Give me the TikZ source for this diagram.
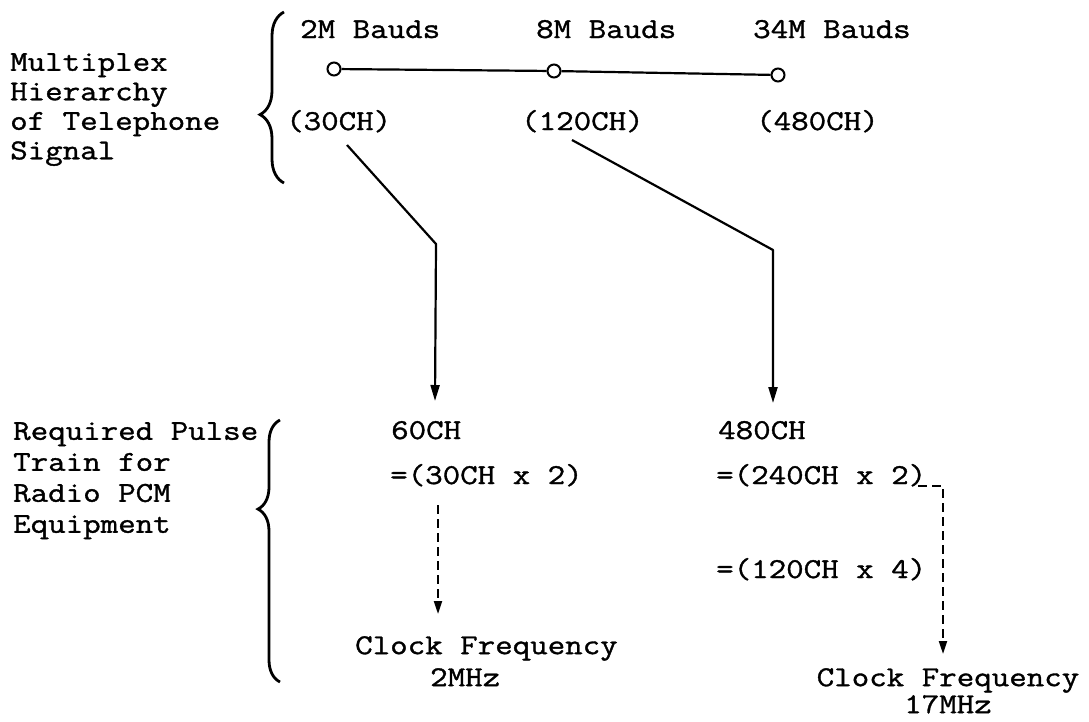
\documentclass[tikz,border=0pt]{standalone}
\usepackage{fontspec}
\newfontfamily\tw{Latin Modern Mono}[FakeStretch=1.18,FakeBold=1.2]
\usetikzlibrary{arrows.meta,decorations.pathreplacing}
\begin{document}
\begin{tikzpicture}[x=1pt,y=-1pt,
  txt/.style={inner sep=0pt, font=\tw\fontsize{28.8}{29.5}\selectfont, anchor=base west},
  blk/.style={align=left, anchor=north west},
  ln/.style={line width=2.2pt},
  arr/.style={line width=2.2pt, line join=round, -{Triangle[length=16pt,width=9pt]}},
  darr/.style={line width=2pt, dash pattern=on 9pt off 5pt, -{Triangle[length=13pt,width=8pt]}},
  dot/.style={circle, draw, line width=2pt, minimum size=13pt, inner sep=0pt, fill=white},
  brc/.style={decorate, line width=2.8pt}]
\useasboundingbox (0,0) rectangle (1089,721);
% top hierarchy
\node[txt] (b2) at (300,38) {2M Bauds};
\node[txt] (b8) at (536,38) {8M Bauds};
\node[txt] (b34) at (753,38) {34M Bauds};
\node[dot] (c2) at (334,69) {};
\node[dot] (c8) at (554,71) {};
\node[dot] (c34) at (778,75) {};
\draw[ln] (c2) -- (c8);
\draw[ln] (c8) -- (c34);
\node[txt] (h30) at (286,130) {(30CH)};
\node[txt] (h120) at (521,130) {(120CH)};
\node[txt] (h480) at (756,130) {(480CH)};
% left labels
\node[txt,blk] (lab1) at (10,53) {Multiplex\\Hierarchy\\of Telephone\\Signal};
\node[txt,blk,font=\tw\fontsize{28.8}{31}\selectfont] (lab2) at (13,422) {Required Pulse\\Train for\\Radio PCM\\Equipment};
% braces
\draw[brc, decoration={brace, amplitude=24pt, aspect=0.40}] (284,183) -- (284,12);
\draw[brc, decoration={brace, amplitude=22pt, aspect=0.66}] (280,682) -- (280,420);
% lower texts
\node[txt] (n60) at (391,439) {60CH};
\node[txt] (e30) at (390,484) {=(30CH x 2)};
\node[txt] (n480) at (718,439) {480CH};
\node[txt] (e240) at (716,484) {=(240CH x 2)};
\node[txt] (e120) at (716,578) {=(120CH x 4)};
\node[txt,blk,font=\tw\fontsize{28.8}{32}\selectfont] (clk1) at (355,636) {Clock Frequency\\\hspace*{75pt}2MHz};
\node[txt,blk,align=center,anchor=north,font=\tw\fontsize{28.8}{27}\selectfont] (clk2) at (948,668) {Clock Frequency\\17MHz};
% connectors
\coordinate (s30) at (347,145);
\coordinate (k30) at (436,244);
\coordinate (t30) at (435,401);
\draw[arr] (s30) -- (k30) -- (t30);
\coordinate (s120) at (572,140);
\coordinate (k120) at (773,250);
\coordinate (t120) at (773,403);
\draw[arr] (s120) -- (k120) -- (t120);
\coordinate (d1s) at (438,505);
\coordinate (d1t) at (438,614);
\draw[darr] (d1s) -- (d1t);
\coordinate (d2s) at (918,486);
\coordinate (d2k) at (943,486);
\coordinate (d2t) at (943,654);
\draw[darr] (d2s) -- (d2k) -- (d2t);
\end{tikzpicture}
\end{document}
